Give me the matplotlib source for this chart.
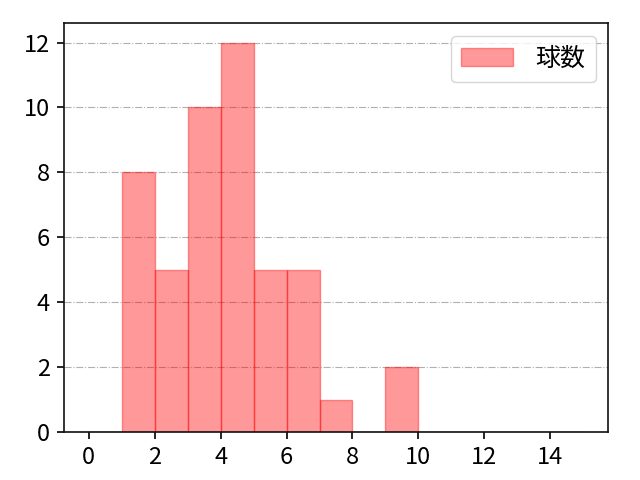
import numpy as np
import matplotlib
matplotlib.use('Agg')
import matplotlib.pyplot as plt
plt.rcParams['font.family'] = ['Noto Sans CJK JP', 'DejaVu Sans']
plt.rcParams.update({'font.size': 17})

# bin edges and counts
bin_left = [0, 1, 2, 3, 4, 5, 6, 7, 8, 9, 10, 11, 12, 13, 14]
counts = [0, 8, 5, 10, 12, 5, 5, 1, 0, 2, 0, 0, 0, 0, 0]
edges = list(range(0, 16))

fig, ax = plt.subplots(figsize=(6.4, 4.8), dpi=100)
fig.subplots_adjust(left=0.1, right=0.95, top=0.952, bottom=0.1)
ax.hist(bin_left, bins=edges, weights=counts, color='red', alpha=0.4,
        edgecolor='red', linewidth=1, label='球数')
ax.set_xlim(-0.75, 15.75)
ax.set_ylim(0, 12.6)
ax.set_xticks(range(0, 16, 2))
ax.grid(axis='y', linestyle='-.', color='#b0b0b0', linewidth=0.8)
ax.set_axisbelow(True)
for s in ax.spines.values():
    s.set_linewidth(1.2)
    s.set_color('#111111')
ax.tick_params(width=1.2, length=5, pad=5)
ax.legend(loc='upper right', fontsize=18, handlelength=2.1, handletextpad=0.9)
plt.savefig('out.png')
